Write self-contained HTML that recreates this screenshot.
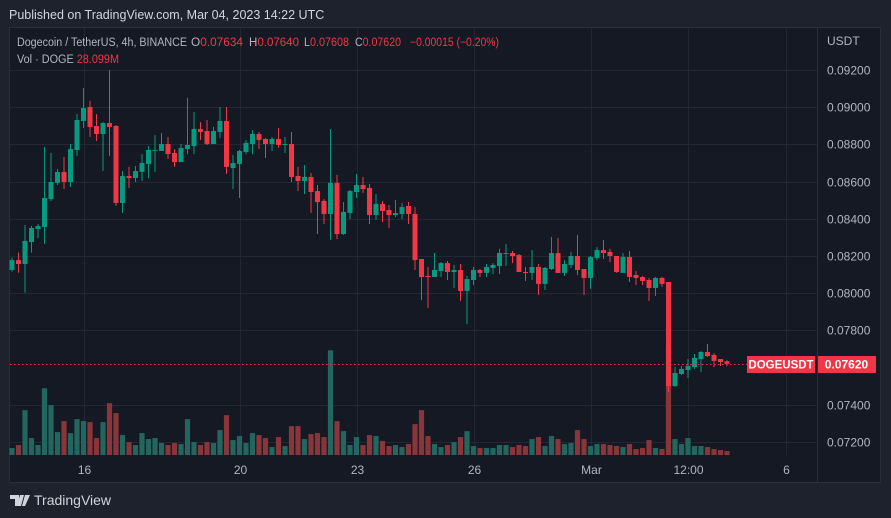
<!DOCTYPE html>
<html><head><meta charset="utf-8">
<style>
html,body{margin:0;padding:0;background:#1e222d;width:891px;height:518px;overflow:hidden;font-family:"Liberation Sans",sans-serif;}
svg{display:block}
</style></head>
<body>
<svg id="chart" width="891" height="518" xmlns="http://www.w3.org/2000/svg">
<rect x="0" y="0" width="891" height="518" fill="#1e222d"/>
<text x="9" y="19" fill="#d1d4dc" font-size="12.5" font-family="Liberation Sans, sans-serif">Published on TradingView.com, Mar 04, 2023 14:22 UTC</text>
<rect x="9.5" y="27.5" width="871" height="455" fill="#151924" stroke="#2a2e39"/>
<g id="grid"></g>
<g id="vols"></g>
<g id="candles"></g>
<g id="axes"></g>
<g font-size="11.5" font-family="Liberation Sans, sans-serif">
<text x="17" y="46" fill="#b2b5be" textLength="170" lengthAdjust="spacingAndGlyphs">Dogecoin / TetherUS, 4h, BINANCE</text>
<text x="191" y="46" fill="#b2b5be" textLength="52" lengthAdjust="spacingAndGlyphs">O<tspan fill="#f23645">0.07634</tspan></text>
<text x="249" y="46" fill="#b2b5be" textLength="50" lengthAdjust="spacingAndGlyphs">H<tspan fill="#f23645">0.07640</tspan></text>
<text x="304" y="46" fill="#b2b5be" textLength="45" lengthAdjust="spacingAndGlyphs">L<tspan fill="#f23645">0.07608</tspan></text>
<text x="355" y="46" fill="#b2b5be" textLength="46" lengthAdjust="spacingAndGlyphs">C<tspan fill="#f23645">0.07620</tspan></text>
<text x="410" y="46" fill="#f23645" textLength="89" lengthAdjust="spacingAndGlyphs">−0.00015 (−0.20%)</text>
<text x="17" y="63" fill="#b2b5be" textLength="102" lengthAdjust="spacingAndGlyphs">Vol · DOGE <tspan fill="#f23645">28.099M</tspan></text>
</g>
<line x1="817.5" y1="28" x2="817.5" y2="482" stroke="#2a2e39"/>
<text x="827" y="45" fill="#b2b5be" font-size="12">USDT</text>
<g>
<path d="M10 495h9v11h-4v-7h-5z M20 495h4l-3 11h-4z M25 495h5l-5 11h-3z" fill="#d1d4dc"/>
<text x="34" y="505" fill="#d1d4dc" font-size="14" font-family="Liberation Sans, sans-serif">TradingView</text>
</g>
</svg>
<script>
// prices in units of 1e-5 USDT
const openP = [8125,8178,8157,8275,8345,8356,8506,8593,8652,8598,8770,8926,9001,8899,8856,8915,8899,8485,8630,8619,8652,8695,8765,8765,8802,8754,8705,8775,8791,8883,8872,8802,8867,8926,8673,8695,8759,8802,8856,8829,8802,8829,8797,8802,8630,8603,8625,8549,8496,8426,8593,8318,8431,8544,8582,8566,8420,8480,8447,8420,8426,8469,8426,8184,8093,8087,8119,8162,8114,8125,8012,8071,8125,8109,8136,8146,8211,8216,8205,8114,8109,8141,8050,8130,8216,8109,8152,8200,8130,8082,8189,8232,8222,8200,8109,8195,8098,8087,8071,8028,8082,8060,7501,7566,7587,7603,7646,7684,7668,7646,7634];
const highP = [8191,8218,8367,8361,8372,8786,8754,8668,8732,8802,8963,9103,9033,8963,8920,9200,8904,8657,8679,8684,8748,8791,8851,8861,8840,8775,8802,9050,8974,8920,8931,8894,9001,9001,8743,8770,8824,8877,8867,8834,8840,8888,8840,8867,8679,8689,8646,8582,8506,8883,8636,8490,8555,8641,8625,8587,8533,8496,8474,8501,8485,8490,8463,8184,8141,8216,8168,8173,8152,8157,8093,8141,8130,8157,8162,8238,8265,8227,8211,8141,8232,8157,8141,8302,8297,8178,8222,8313,8130,8200,8249,8286,8238,8200,8216,8227,8119,8093,8082,8087,8087,8060,7603,7609,7646,7673,7689,7727,7678,7646,7640];
const lowP = [8116,8110,8003,8218,8297,8266,8496,8582,8560,8571,8738,8888,8840,8818,8657,8738,8469,8431,8566,8598,8603,8619,8652,8765,8722,8679,8705,8748,8748,8824,8797,8802,8834,8641,8560,8512,8748,8748,8775,8727,8765,8781,8754,8598,8549,8533,8431,8318,8372,8286,8291,8313,8399,8512,8539,8372,8394,8383,8351,8410,8399,8372,8125,7963,7921,8087,8087,8071,8028,7958,7834,8044,8087,8087,8103,8103,8146,8162,8114,8066,8071,7990,8017,8125,8109,8093,8136,8098,7990,8023,8178,8184,8168,8109,8109,8060,8044,8044,7958,7985,8033,7469,7496,7560,7544,7593,7576,7657,7603,7609,7608];
const closeP = [8178,8157,8281,8351,8361,8512,8598,8652,8598,8775,8931,8996,8894,8856,8915,8894,8485,8630,8619,8657,8700,8770,8770,8802,8748,8705,8781,8797,8883,8867,8802,8872,8926,8679,8700,8765,8808,8856,8824,8802,8829,8797,8802,8625,8603,8625,8544,8490,8426,8593,8318,8437,8549,8582,8560,8420,8480,8442,8420,8431,8463,8426,8178,8087,8087,8125,8162,8114,8125,8012,8076,8125,8109,8141,8152,8216,8216,8200,8114,8109,8141,8050,8136,8216,8109,8157,8200,8125,8082,8195,8232,8216,8200,8114,8195,8087,8082,8066,8028,8082,8050,7501,7571,7593,7609,7652,7684,7662,7636,7630,7620];
// volume in millions DOGE
const volumeM = [49,70,315,119,70,469,350,161,238,154,252,238,231,119,231,364,294,140,91,70,154,112,119,84,70,84,77,252,91,70,91,84,175,280,105,133,84,154,140,119,56,126,63,203,203,112,147,154,126,735,238,168,70,126,70,140,133,98,63,70,56,77,217,315,133,77,56,70,91,126,168,63,49,49,49,70,70,56,70,63,112,126,63,133,112,77,84,175,112,63,77,77,70,63,56,77,42,49,105,49,42,749,112,77,119,63,63,56,42,35,28];
const priceTicks = [9200,9000,8800,8600,8400,8200,8000,7800,7400,7200];
const timeTickLabels = ["16","20","23","26","Mar","12:00","6"];
const timeTickIndex = [11,35,53,71,89,104,119];
const lastPrice = 7620;

const NS="http://www.w3.org/2000/svg";
function xAt(i){return 12+i*6.5;}
function yAt(p){return 70+(9200-p)*0.186;}
function vAt(v){return 455-v*0.1424;}
function mk(tag,attrs,parent){const e=document.createElementNS(NS,tag);for(const k in attrs)e.setAttribute(k,attrs[k]);parent.appendChild(e);return e;}
const grid=document.getElementById('grid'),vols=document.getElementById('vols'),cg=document.getElementById('candles'),axes=document.getElementById('axes');
priceTicks.forEach(p=>{
  const y=Math.round(yAt(p))+0.5;
  const gl=mk('line',{x1:10,x2:817,y1:y,y2:y,stroke:'#232733'},grid);
  
  
  const t=mk('text',{x:827,y:y+4,fill:'#b2b5be','font-size':12},axes);
  t.textContent='0.0'+p;
  
  
});
timeTickIndex.forEach((ix,k)=>{
  const x=Math.round(xAt(ix))+0.5;
  const gl=mk('line',{x1:x,x2:x,y1:28,y2:455,stroke:'#232733'},grid);
  
  
  const t=mk('text',{x:x,y:474,fill:'#b2b5be','font-size':12,'text-anchor':'middle'},axes);
  t.textContent=timeTickLabels[k];
  
  
});
volumeM.forEach((v,i)=>{
  const up=closeP[i]>=openP[i];
  const y=vAt(v);
  const r=mk('rect',{x:xAt(i)-2.6,y:y,width:5.2,height:455-y,fill:up?'#22665f':'#8a3539'},vols);
  
  
});
openP.forEach((o,i)=>{
  const c=closeP[i],up=c>=o,col=up?'#089981':'#f23645',x=xAt(i);
  const g=mk('g',{},cg);
  
  
  mk('line',{x1:x,x2:x,y1:yAt(highP[i]),y2:yAt(lowP[i]),stroke:col,'stroke-width':1},g);
  const t=Math.min(yAt(o),yAt(c)),b=Math.max(yAt(o),yAt(c));
  mk('rect',{x:x-2.5,y:t,width:5,height:Math.max(1,b-t),fill:col},g);
});
const ly=Math.round(yAt(lastPrice))+0.5;
const pl=mk('line',{x1:10,x2:817,y1:ly,y2:ly,stroke:'#f23645','stroke-dasharray':'1.5 2.5'},axes);


const sb=mk('rect',{x:747,y:ly-8.5,width:68,height:17,fill:'#f23645'},axes);


const st=mk('text',{x:781,y:ly+4,fill:'#fff','font-size':11.5,'font-weight':'bold','text-anchor':'middle'},axes);
st.textContent='DOGEUSDT';


const vb=mk('rect',{x:817,y:ly-8.5,width:59,height:17,fill:'#f23645'},axes);


const vt=mk('text',{x:846.5,y:ly+4,fill:'#fff','font-size':12,'font-weight':'bold','text-anchor':'middle'},axes);
vt.textContent='0.0'+lastPrice;


</script>
</body></html>
